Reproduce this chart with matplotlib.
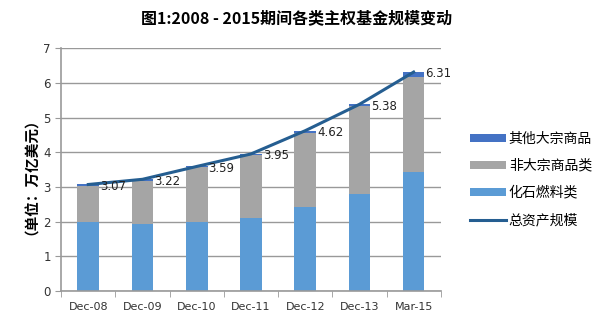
import matplotlib
matplotlib.use("Agg")
import matplotlib.pyplot as plt
import numpy as np

plt.rcParams['font.family'] = ['Noto Sans CJK SC', 'DejaVu Sans']

categories = ["Dec-08", "Dec-09", "Dec-10", "Dec-11", "Dec-12", "Dec-13", "Mar-15"]
total = [3.07, 3.22, 3.59, 3.95, 4.62, 5.38, 6.31]
fossil = [2.00, 1.92, 2.00, 2.10, 2.43, 2.81, 3.42]
other = [0.03, 0.04, 0.03, 0.04, 0.06, 0.05, 0.13]
non_commodity = [round(t - f - o, 2) for t, f, o in zip(total, fossil, other)]

fig = plt.figure(figsize=(5.94, 3.23), dpi=100)
ax = fig.add_axes([0.103, 0.099, 0.639, 0.752])

x = np.arange(len(categories))
w = 0.4
b1 = ax.bar(x, fossil, w, color="#5B9BD5", label="化石燃料类", zorder=2)
b2 = ax.bar(x, non_commodity, w, bottom=fossil, color="#A5A5A5", label="非大宗商品类", zorder=2)
bot = [f + n for f, n in zip(fossil, non_commodity)]
b3 = ax.bar(x, other, w, bottom=bot, color="#4472C4", label="其他大宗商品", zorder=2)
ln, = ax.plot(x, total, color="#255E91", lw=2.2, label="总资产规模", zorder=3)

for xi, t in zip(x, total):
    ax.text(xi + 0.22, t - 0.05, f"{t:.2f}", fontsize=8.5, va="center", ha="left",
            color="#222222", family="DejaVu Sans", zorder=4)

ax.set_xlim(-0.5, 6.5)
ax.set_ylim(0, 7)
ax.set_yticks(range(8))
ax.set_xticks(x)
ax.set_xticklabels(categories, fontsize=8, family="DejaVu Sans", color="#333333")
ax.set_xticks(np.arange(-0.5, 7, 1), minor=True)
ax.tick_params(axis="x", which="major", length=0, pad=8)
ax.tick_params(axis="x", which="minor", length=4, color="#999999")
ax.tick_params(axis="y", labelsize=8.5, length=4, color="#999999", labelcolor="#333333")
for t in ax.get_yticklabels():
    t.set_family("DejaVu Sans")
ax.grid(axis="y", color="#999999", lw=1, zorder=0)
for s in ["top", "right"]:
    ax.spines[s].set_visible(False)
ax.spines["left"].set_color("#999999")
ax.spines["bottom"].set_color("#999999")
ax.spines["left"].set_linewidth(1.2)
ax.spines["bottom"].set_linewidth(1.2)

ax.set_ylabel("（单位：万亿美元）", fontsize=10.5, fontweight="bold", labelpad=8)

fig.text(0.5, 0.945, "图1:2008 - 2015期间各类主权基金规模变动", ha="center", va="center",
         fontsize=11.5, fontweight="bold")

leg = fig.legend([b3, b2, b1, ln], ["其他大宗商品", "非大宗商品类", "化石燃料类", "总资产规模"],
                 loc="center left", bbox_to_anchor=(0.77, 0.445), frameon=False,
                 fontsize=10, handlelength=2.6, handleheight=0.5, labelspacing=0.95,
                 handletextpad=0.2)

fig.savefig("out.png", dpi=100)
